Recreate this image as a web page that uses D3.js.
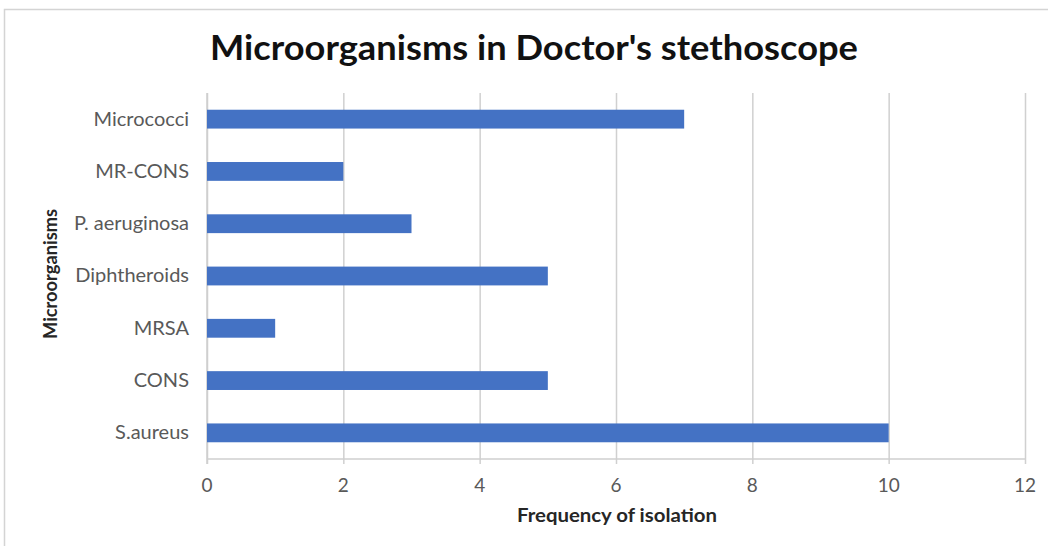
<!DOCTYPE html>
<html>
<head>
<meta charset="utf-8">
<script src="https://cdn.jsdelivr.net/npm/d3@7"></script>
<style>
  html, body { margin: 0; padding: 0; background: #ffffff; }
  svg { display: block; }
</style>
</head>
<body>
<svg id="chart" width="1048" height="546"></svg>
<script>
// Organisms isolated from doctors' stethoscopes, listed bottom to top
const categories = ["S.aureus", "CONS", "MRSA", "Diphtheroids", "P. aeruginosa", "MR-CONS", "Micrococci"];
const frequencies = [10, 5, 1, 5, 3, 2, 7];
const xTicks = [0, 2, 4, 6, 8, 10, 12];

const chartTitle = "Microorganisms in Doctor's stethoscope";
const xTitle = "Frequency of isolation";
const yTitle = "Microorganisms";

const svg = d3.select("#chart");
const W = 1048, H = 546;
const plot = { left: 207, right: 1025, top: 93, bottom: 459 };
const font = "Lato, 'Open Sans', sans-serif";

// Outer chart frame
svg.append("rect")
  .attr("x", 4.5).attr("y", 9.5)
  .attr("width", W + 10).attr("height", H + 10)
  .attr("fill", "#ffffff")
  .attr("stroke", "#d4d4d4").attr("stroke-width", 1.5);

const x = d3.scaleLinear().domain([0, 12]).range([plot.left, plot.right]);
const y = d3.scaleBand()
  .domain(categories.slice().reverse())
  .range([plot.top, plot.bottom])
  .paddingInner(0.64).paddingOuter(0.32);

// Vertical gridlines with tick marks below the axis
const xAxis = d3.axisBottom(x)
  .tickValues(xTicks)
  .tickSize(-(plot.bottom - plot.top))
  .tickSizeOuter(0)
  .tickPadding(0)
  .tickFormat("");
const gx = svg.append("g")
  .attr("transform", `translate(0,${plot.bottom})`)
  .call(xAxis);
gx.select(".domain").remove();
gx.selectAll(".tick line")
  .attr("y2", 5)
  .attr("y1", -(plot.bottom - plot.top))
  .attr("stroke", "#d0d0d0").attr("stroke-width", 1.5);

// X tick labels
svg.append("g").selectAll("text")
  .data(xTicks)
  .join("text")
  .attr("x", d => x(d))
  .attr("y", 492)
  .attr("text-anchor", "middle")
  .attr("font-family", font)
  .attr("font-size", 19)
  .attr("fill", "#595959")
  .text(d => d);

// Axis lines
svg.append("line")
  .attr("x1", plot.left).attr("x2", plot.right)
  .attr("y1", plot.bottom).attr("y2", plot.bottom)
  .attr("stroke", "#cfcfcf").attr("stroke-width", 1.5);
svg.append("line")
  .attr("x1", plot.left).attr("x2", plot.left)
  .attr("y1", plot.top).attr("y2", plot.bottom + 5)
  .attr("stroke", "#cfcfcf").attr("stroke-width", 1.5);

// Bars
svg.append("g").selectAll("rect")
  .data(categories.map((c, i) => ({ c, v: frequencies[i] })))
  .join("rect")
  .attr("x", x(0))
  .attr("y", d => y(d.c))
  .attr("width", d => x(d.v) - x(0))
  .attr("height", y.bandwidth())
  .attr("fill", "#4472c4");

// Category labels
const yAxis = d3.axisLeft(y).tickSize(0).tickPadding(18);
const gy = svg.append("g")
  .attr("transform", `translate(${plot.left},0)`)
  .call(yAxis);
gy.select(".domain").remove();
gy.selectAll(".tick text")
  .attr("font-family", font)
  .attr("font-size", 20)
  .attr("fill", "#595959");

// Titles
svg.append("text")
  .attr("x", 534).attr("y", 60)
  .attr("text-anchor", "middle")
  .attr("font-family", font)
  .attr("font-weight", "bold")
  .attr("font-size", 34)
  .attr("textLength", 648)
  .attr("lengthAdjust", "spacingAndGlyphs")
  .attr("fill", "#111111")
  .text(chartTitle);

svg.append("text")
  .attr("x", 617).attr("y", 522)
  .attr("text-anchor", "middle")
  .attr("font-family", font)
  .attr("font-weight", "bold")
  .attr("font-size", 19)
  .attr("textLength", 200)
  .attr("lengthAdjust", "spacingAndGlyphs")
  .attr("fill", "#262626")
  .text(xTitle);

svg.append("text")
  .attr("transform", "translate(57,274) rotate(-90)")
  .attr("text-anchor", "middle")
  .attr("font-family", font)
  .attr("font-weight", "bold")
  .attr("font-size", 19)
  .attr("textLength", 130)
  .attr("lengthAdjust", "spacingAndGlyphs")
  .attr("fill", "#262626")
  .text(yTitle);
</script>
</body>
</html>
